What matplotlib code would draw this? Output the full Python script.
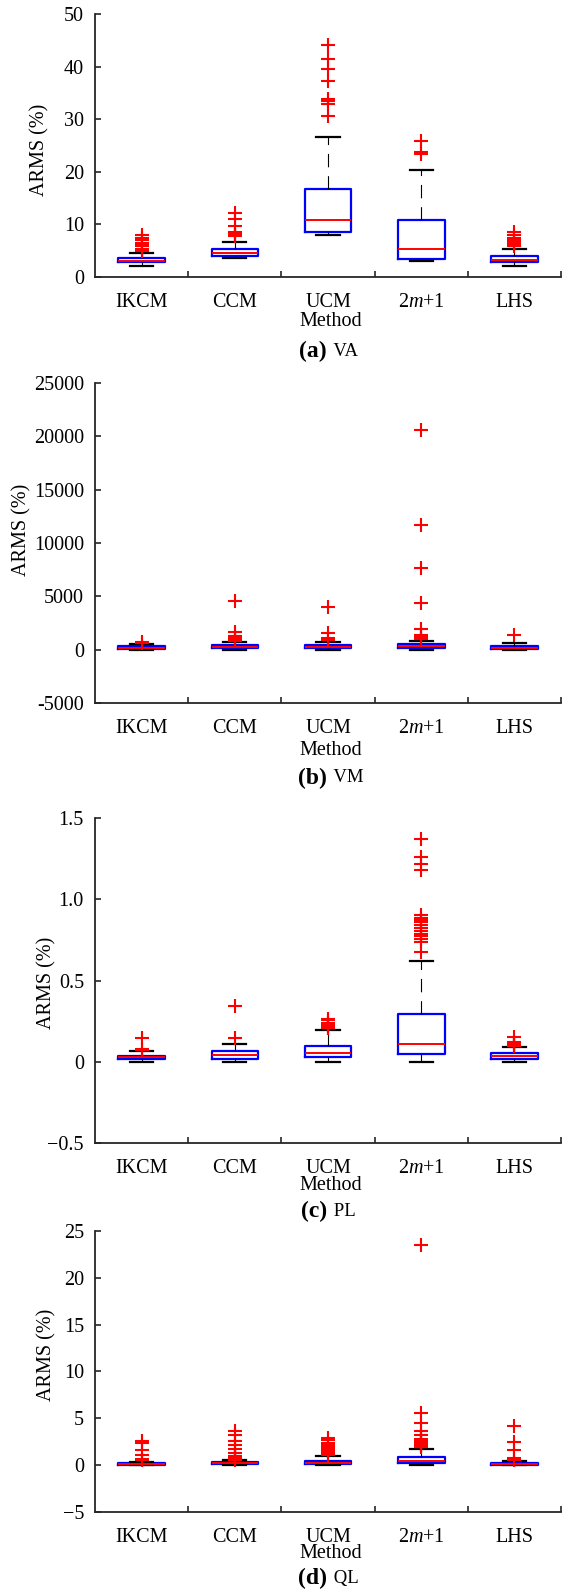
import matplotlib
matplotlib.use("Agg")
import matplotlib.pyplot as plt

plt.rcParams['font.family'] = ['Liberation Serif', 'DejaVu Serif']
plt.rcParams['mathtext.fontset'] = 'custom'
plt.rcParams['mathtext.rm'] = 'Liberation Serif'
plt.rcParams['mathtext.it'] = 'Liberation Serif:italic'

# categories
methods = ['IKCM', 'CCM', 'UCM', '2$m$+1', 'LHS']

# box stats per panel: q1, median, q3, lower whisker, upper whisker, outliers
# (a) VA
va_q1 = [2.84, 4.0, 8.65, 3.5, 2.85]
va_med = [3.1, 4.5, 10.8, 5.25, 3.3]
va_q3 = [3.66, 5.4, 16.8, 10.8, 4.0]
va_lo = [2.1, 3.6, 8.0, 3.0, 2.1]
va_hi = [4.6, 6.7, 26.6, 20.4, 5.3]
va_out = [[5.0, 5.4, 5.8, 6.1, 6.5, 7.0, 7.5, 8.0],
          [7.8, 8.0, 8.2, 8.5, 9.7, 11.0, 12.2],
          [30.6, 32.9, 33.4, 33.9, 37.2, 39.5, 41.5, 44.2],
          [23.4, 23.7, 25.9],
          [5.8, 6.2, 6.6, 7.0, 7.5, 8.0, 8.5]]
va_ticks = [0, 10, 20, 30, 40, 50]
va_ticklabels = ['0', '10', '20', '30', '40', '50']

# (b) VM
vm_q1 = [100, 150, 150, 200, 100]
vm_med = [200, 250, 250, 350, 200]
vm_q3 = [300, 400, 400, 500, 300]
vm_lo = [0, 0, 0, 0, 0]
vm_hi = [500, 700, 700, 800, 600]
vm_out = [[600, 700],
          [800, 1000, 1100, 1300, 1700, 4530],
          [900, 1100, 1600, 4040],
          [1000, 1200, 1400, 1900, 4350, 7670, 11700, 20560],
          [1400]]
vm_ticks = [-5000, 0, 5000, 10000, 15000, 20000, 25000]
vm_ticklabels = ['-5000', '0', '5000', '10000', '15000', '20000', '25000']

# (c) PL
pl_q1 = [0.02, 0.02, 0.029, 0.047, 0.02]
pl_med = [0.029, 0.041, 0.056, 0.109, 0.035]
pl_q3 = [0.037, 0.066, 0.097, 0.292, 0.051]
pl_lo = [0, 0, 0, 0, 0]
pl_hi = [0.068, 0.109, 0.198, 0.617, 0.088]
pl_out = [[0.074, 0.078, 0.144],
          [0.144, 0.344],
          [0.21, 0.215, 0.22, 0.225, 0.23, 0.24, 0.255, 0.265],
          [0.675, 0.74, 0.757, 0.775, 0.788, 0.805, 0.821, 0.84, 0.858, 0.872,
           0.885, 0.905, 1.177, 1.22, 1.26, 1.372],
          [0.10, 0.105, 0.11, 0.115, 0.12, 0.15]]
pl_ticks = [-0.5, 0, 0.5, 1.0, 1.5]
pl_ticklabels = ['\u22120.5', '0', '0.5', '1.0', '1.5']

# (d) QL
ql_q1 = [0.05, 0.1, 0.1, 0.25, 0.05]
ql_med = [0.1, 0.18, 0.25, 0.43, 0.1]
ql_q3 = [0.2, 0.3, 0.45, 0.85, 0.2]
ql_lo = [0, 0, 0, 0, 0]
ql_hi = [0.35, 0.5, 0.95, 1.74, 0.4]
ql_out = [[0.5, 0.7, 1.1, 1.6, 2.4, 2.6],
          [0.6, 0.7, 0.8, 0.9, 1.0, 1.3, 1.7, 2.1, 2.6, 3.2, 3.7],
          [1.1, 1.3, 1.5, 1.7, 1.9, 2.1, 2.4, 2.7, 2.9],
          [1.9, 2.0, 2.1, 2.2, 2.3, 2.4, 2.5, 2.6, 2.8, 3.2, 3.7, 4.5, 5.6, 23.5],
          [0.5, 0.8, 1.6, 2.5, 4.2]]
ql_ticks = [-5, 0, 5, 10, 15, 20, 25]
ql_ticklabels = ['\u22125', '0', '5', '10', '15', '20', '25']

panels = [
    (va_q1, va_med, va_q3, va_lo, va_hi, va_out, va_ticks, va_ticklabels, '(a)', 'VA'),
    (vm_q1, vm_med, vm_q3, vm_lo, vm_hi, vm_out, vm_ticks, vm_ticklabels, '(b)', 'VM'),
    (pl_q1, pl_med, pl_q3, pl_lo, pl_hi, pl_out, pl_ticks, pl_ticklabels, '(c)', 'PL'),
    (ql_q1, ql_med, ql_q3, ql_lo, ql_hi, ql_out, ql_ticks, ql_ticklabels, '(d)', 'QL'),
]

# layout in pixels (from top): axes top, axes bottom, ylabel x, ylabel y, method y, caption y
layout = [
    (14, 277, 40, 150, 322, 351),
    (383, 703, 22, 530, 750, 778),
    (818, 1143, 47, 983, 1185, 1211),
    (1231, 1512, 47, 1355, 1554, 1578),
]

W, H = 565, 1591
fig = plt.figure(figsize=(W / 100, H / 100), dpi=100)
axl, axr = 95, 561
spine_col = '#262626'

for (q1, med, q3, lo, hi, out, yt, ytl, tag, name), (top, bot, ylx, yly, my, cy) in zip(panels, layout):
    ax = fig.add_axes([axl / W, 1 - bot / H, (axr - axl) / W, (bot - top) / H])
    stats = []
    for i in range(len(methods)):
        stats.append(dict(q1=q1[i], med=med[i], q3=q3[i], whislo=lo[i],
                          whishi=hi[i], fliers=out[i]))
    ax.bxp(stats, positions=range(1, 6), widths=0.5,
           boxprops=dict(color='#0000ff', linewidth=1.6),
           medianprops=dict(color='#ff0000', linewidth=1.4),
           whiskerprops=dict(color='black', linewidth=0.8, linestyle=(0, (12, 8))),
           capprops=dict(color='black', linewidth=1.6),
           capwidths=0.25,
           flierprops=dict(marker='+', markeredgecolor='#ff0000', markersize=10.5,
                           markeredgewidth=1.5, linestyle='none'))
    ax.set_xlim(0.5, 5.5)
    ax.set_ylim(yt[0], yt[-1])
    ax.set_yticks(yt)
    ax.set_yticklabels(ytl)
    ax.set_xticks(range(1, 6))
    ax.set_xticklabels(methods)
    ax.set_xticks([1.5, 2.5, 3.5, 4.5, 5.5], minor=True)
    ax.tick_params(axis='x', which='major', length=0, pad=11.5, labelsize=14.5)
    ax.tick_params(axis='x', which='minor', direction='in', length=4, width=1.2, color=spine_col)
    ax.tick_params(axis='y', direction='in', length=4, width=1.2, color=spine_col, pad=8, labelsize=14.5)
    for s in ['top', 'right']:
        ax.spines[s].set_visible(False)
    for s in ['left', 'bottom']:
        ax.spines[s].set_color(spine_col)
        ax.spines[s].set_linewidth(1.3)
    fig.text(ylx / W, 1 - yly / H, 'ARMS (%)', rotation=90, fontsize=14.5,
             ha='center', va='center')
    xc = (axl + axr) / 2 / W
    fig.text(xc + 3 / W, 1 - my / H, 'Method', fontsize=14.5, ha='center', va='center')
    fig.text(xc - 1 / W, 1 - cy / H, tag, fontsize=17, fontweight='bold', ha='right', va='center')
    fig.text(xc + 1 / W, 1 - cy / H, ' ' + name, fontsize=13.5, ha='left', va='center')

fig.savefig('out.png', dpi=100)
